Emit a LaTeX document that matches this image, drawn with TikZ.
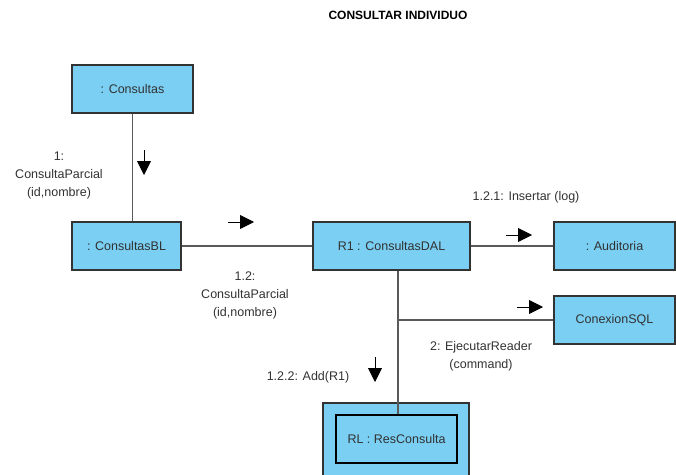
\documentclass[tikz,border=0pt]{standalone}
\usepackage{fontspec}
\setmainfont{Liberation Sans}
\usetikzlibrary{arrows.meta}
\definecolor{objfill}{RGB}{122,207,243}
\definecolor{objline}{RGB}{51,51,51}
\definecolor{linkgray}{RGB}{90,90,90}
\definecolor{txtgray}{RGB}{50,50,50}
\begin{document}
\begin{tikzpicture}[
			x=1pt,y=-1pt,
			obj/.style={draw=objline,fill=objfill,line width=1.3pt,inner sep=0pt,
				minimum height=48pt,text=txtgray,font=\fontsize{12.5}{14}\selectfont},
			link/.style={draw=linkgray,line width=1.1pt},
			msg/.style={line width=0.9pt,-{Triangle[length=14pt,width=14pt]}},
			lbl/.style={align=center,text=txtgray,font=\fontsize{12.5}{18}\selectfont}
		]
		\clip (0,0) rectangle (676,474);
		\useasboundingbox (0,0) rectangle (676,474);
		\node (title) at (398,15) {\fontsize{12}{14}\selectfont\bfseries CONSULTAR INDIVIDUO};
		% objects
		\node[obj,minimum width=121pt] (consultas) at (132.5,89) {: Consultas};
		\node[obj,minimum width=109pt] (consultasbl) at (126.5,246) {: ConsultasBL};
		\node[obj,minimum width=157pt] (consultasdal) at (391.5,246) {R1 : ConsultasDAL};
		\node[obj,minimum width=121pt] (auditoria) at (614.5,246) {: Auditoria};
		\node[obj,minimum width=121pt] (conexion) at (614.5,320) {ConexionSQL};
		\node[obj,minimum width=146pt,minimum height=100pt] (rlouter) at (396,453) {};
		\node[obj,draw=black,line width=1.6pt,minimum width=121pt] (resconsulta) at (396.5,439) {RL : ResConsulta};
		% links
		\coordinate (split) at (398,320);
		\draw[link] (consultas.south) -- (consultas.south |- consultasbl.north);
		\draw[link] (consultasbl.east) -- (consultasdal.west);
		\draw[link] (consultasdal.east) -- (auditoria.west);
		\draw[link] (split |- consultasdal.south) -- (split |- resconsulta.north);
		\draw[link] (split) -- (conexion.west);
		% messages
		\draw[msg] (144,150) -- ++(0,25);
		\node[lbl] (m1) at (59,175) {1:\\ConsultaParcial\\(id,nombre)};
		\draw[msg] (228,222) -- ++(26,0);
		\node[lbl] (m12) at (245,295) {1.2:\\ConsultaParcial\\(id,nombre)};
		\draw[msg] (506,235) -- ++(26,0);
		\node[lbl] (m121) at (526,197) {1.2.1: Insertar (log)};
		\draw[msg] (517,307) -- ++(26,0);
		\node[lbl] (m2) at (481,356) {2: EjecutarReader\\(command)};
		\draw[msg] (375,357) -- ++(0,25);
		\node[lbl] (m122) at (308,377) {1.2.2: Add(R1)};
	\end{tikzpicture}
\end{document}
